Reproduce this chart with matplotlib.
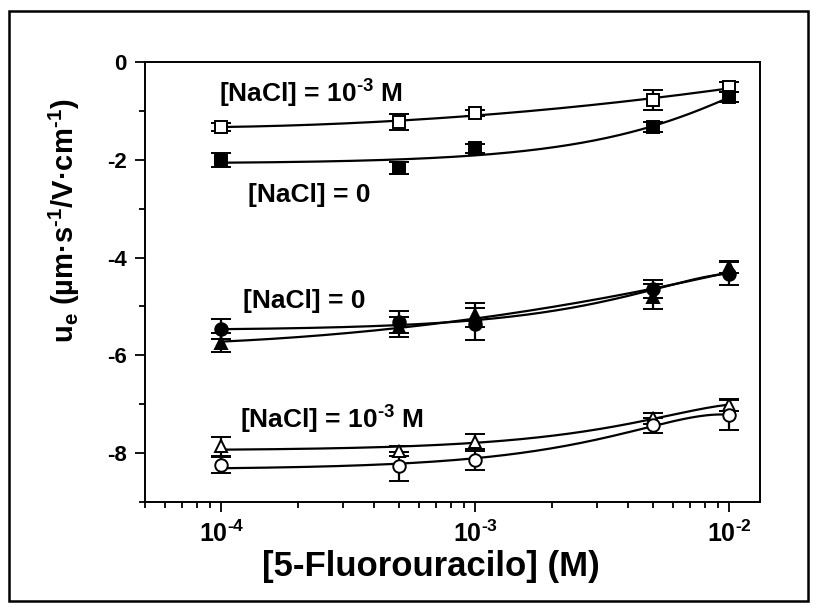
import numpy as np
import matplotlib
matplotlib.use("Agg")
import matplotlib.pyplot as plt
from matplotlib.patches import Rectangle
from matplotlib.ticker import LogLocator, MultipleLocator, NullFormatter

plt.rcParams['font.family'] = ['Liberation Sans', 'DejaVu Sans']
plt.rcParams['font.weight'] = 'bold'
plt.rcParams['axes.labelweight'] = 'bold'
plt.rcParams['axes.unicode_minus'] = False
plt.rcParams['mathtext.fontset'] = 'custom'
plt.rcParams['mathtext.rm'] = 'Liberation Sans:bold'
plt.rcParams['mathtext.it'] = 'Liberation Sans:bold'
plt.rcParams['mathtext.bf'] = 'Liberation Sans:bold'

# concentracion de 5-fluorouracilo (M)
conc = [1e-4, 5e-4, 1e-3, 5e-3, 1e-2]

# movilidad electroforetica, dos sistemas con y sin NaCl
sq_open = [-1.33, -1.23, -1.05, -0.78, -0.52]
sq_open_err = [0.08, 0.16, 0.06, 0.20, 0.10]
sq_fill = [-2.01, -2.17, -1.77, -1.33, -0.72]
sq_fill_err = [0.14, 0.12, 0.10, 0.10, 0.10]

circ_fill = [-5.46, -5.32, -5.36, -4.64, -4.33]
circ_fill_err = [0.20, 0.22, 0.32, 0.18, 0.24]
tri_fill = [-5.74, -5.42, -5.18, -4.80, -4.20]
tri_fill_err = [0.20, 0.20, 0.25, 0.25, 0.12]

tri_open = [-7.86, -7.95, -7.78, -7.29, -7.01]
tri_open_err = [0.20, 0.10, 0.18, 0.12, 0.12]
circ_open = [-8.24, -8.27, -8.13, -7.43, -7.22]
circ_open_err = [0.17, 0.30, 0.22, 0.15, 0.30]

# (valores, errores, marcador, relleno, ajuste en log10 de x)
series = [
    (sq_open, sq_open_err, 's', 'white', True),
    (sq_fill, sq_fill_err, 's', 'black', False),
    (circ_fill, circ_fill_err, 'o', 'black', False),
    (tri_fill, tri_fill_err, '^', 'black', True),
    (tri_open, tri_open_err, '^', 'white', False),
    (circ_open, circ_open_err, 'o', 'white', False),
]

fig = plt.figure(figsize=(8.19, 6.13), dpi=100)
ax = fig.add_axes([0.177, 0.181, 0.751, 0.718])

xs = np.logspace(-4, -2, 200)
for y, e, m, fc, in_log in series:
    # ajuste polinomico de segundo grado
    if in_log:
        p = np.polyfit(np.log10(conc), y, 2)
        ys = np.polyval(p, np.log10(xs))
    else:
        p = np.polyfit(conc, y, 2)
        ys = np.polyval(p, xs)
    ax.plot(xs, ys, color='black', lw=1.6, zorder=2)
    ax.errorbar(conc, y, yerr=e, fmt=m, mfc=fc, mec='black', ms=9, mew=1.4,
                ecolor='black', elinewidth=1.6, capsize=7.5, capthick=1.6,
                ls='none', zorder=3)

ax.set_xscale('log')
ax.set_xlim(5e-5, 1.32e-2)
ax.set_ylim(-9, 0)
ax.xaxis.set_minor_locator(LogLocator(base=10, subs=np.arange(2, 10), numticks=10))
ax.xaxis.set_minor_formatter(NullFormatter())
ax.yaxis.set_major_locator(MultipleLocator(2))
ax.yaxis.set_minor_locator(MultipleLocator(1))
ax.set_xticks([1e-4, 1e-3, 1e-2])
ax.set_xticklabels([r'10$^{\text{-4}}$', r'10$^{\text{-3}}$', r'10$^{\text{-2}}$'])

ax.tick_params(which='both', direction='out', width=1.3)
ax.tick_params(axis='y', labelsize=16)
ax.tick_params(axis='x', labelsize=18)
ax.tick_params(which='major', length=7, pad=6)
ax.tick_params(which='minor', length=4)
for s in ax.spines.values():
    s.set_linewidth(1.4)

ax.set_xlabel('[5-Fluorouracilo] (M)', fontsize=25)
ax.xaxis.set_label_coords(0.465, -0.108)
ax.set_ylabel(r'u$_e$ (µm·s$^{\text{-1}}$/V·cm$^{\text{-1}}$)', fontsize=21)
ax.yaxis.set_label_coords(-0.102, 0.64)

lbl = dict(fontsize=19, ha='center', va='center')
ax.text(2.26e-4, -0.66, r'[NaCl] = 10$^{\text{-3}}$ M', **lbl)
ax.text(2.22e-4, -2.72, '[NaCl] = 0', **lbl)
ax.text(2.12e-4, -4.88, '[NaCl] = 0', **lbl)
ax.text(2.73e-4, -7.33, r'[NaCl] = 10$^{\text{-3}}$ M', **lbl)

# marco exterior
fig.patches.append(Rectangle((9 / 819, 12 / 613), 799 / 819, 590 / 613,
                             transform=fig.transFigure, fill=False,
                             lw=1.8, ec='black'))

fig.savefig('out.png', dpi=100)
